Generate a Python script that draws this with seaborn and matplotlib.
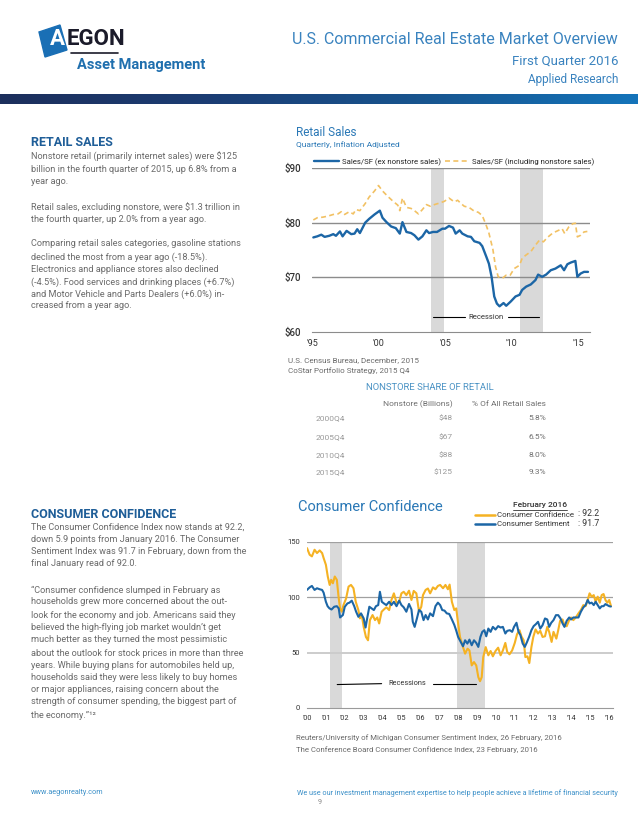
import matplotlib
matplotlib.use("Agg")
import matplotlib.pyplot as plt
import numpy as np
import pandas as pd
import seaborn as sns
from matplotlib.patches import Polygon
from matplotlib.lines import Line2D

W, H = 638, 826

# ---- retail sales per SF (quarterly) ----
ex_years = [1995.1, 1995.4, 1995.7, 1995.95, 1996.3, 1996.6, 1996.8, 1997.1, 1997.3, 1997.6,
            1997.95, 1998.2, 1998.4, 1998.6, 1999.0, 1999.3, 1999.7, 2000.1, 2000.3, 2000.6,
            2000.95, 2001.3, 2001.6, 2001.8, 2002.1, 2002.45, 2002.7, 2003.0, 2003.3, 2003.6,
            2003.8, 2004.1, 2004.4, 2004.8, 2005.0, 2005.3, 2005.6, 2005.8, 2006.1, 2006.3,
            2006.7, 2006.95, 2007.2, 2007.6, 2007.8, 2008.1, 2008.3, 2008.5, 2008.7, 2008.9,
            2009.1, 2009.4, 2009.6, 2009.95, 2010.3, 2010.6, 2010.8, 2011.1, 2011.45, 2011.8,
            2012.0, 2012.3, 2012.6, 2012.95, 2013.3, 2013.7, 2013.95, 2014.2, 2014.45, 2014.8,
            2014.95, 2015.2, 2015.45, 2015.75]
ex_vals = [77.3, 77.5, 77.8, 77.4, 77.6, 77.9, 77.6, 78.4, 77.5, 78.5,
           77.9, 78.0, 78.8, 78.1, 80.0, 80.7, 81.5, 82.2, 80.9, 80.1,
           79.3, 79.0, 78.0, 80.1, 78.3, 78.1, 77.7, 76.9, 77.5, 78.6,
           78.1, 78.3, 78.3, 78.9, 78.9, 79.4, 79.1, 78.0, 78.6, 78.0,
           77.5, 77.4, 76.6, 76.3, 75.7, 73.8, 72.5, 70.1, 66.5, 65.2,
           64.7, 65.3, 64.8, 65.6, 66.5, 66.8, 67.7, 68.3, 68.7, 69.5,
           70.5, 70.1, 70.5, 71.3, 71.6, 72.2, 71.3, 72.4, 72.7, 73.0,
           70.1, 70.7, 71.0, 71.0]

inc_years = [1995.1, 1995.4, 1995.8, 1996.2, 1996.6, 1996.95, 1997.2, 1997.45, 1997.8, 1998.1,
             1998.3, 1998.6, 1999.0, 1999.3, 1999.7, 2000.0, 2000.3, 2000.7, 2001.1, 2001.45,
             2001.6, 2001.8, 2002.1, 2002.45, 2002.7, 2003.0, 2003.3, 2003.6, 2003.9, 2004.2,
             2004.6, 2004.95, 2005.3, 2005.7, 2005.95, 2006.2, 2006.45, 2006.8, 2007.2, 2007.5,
             2007.8, 2008.1, 2008.3, 2008.6, 2008.8, 2009.0, 2009.3, 2009.6, 2009.9, 2010.2,
             2010.6, 2010.8, 2011.1, 2011.45, 2011.8, 2012.1, 2012.4, 2012.7, 2013.1, 2013.45,
             2013.8, 2014.0, 2014.3, 2014.6, 2014.8, 2014.95, 2015.2, 2015.45, 2015.7]
inc_vals = [80.5, 80.9, 81.0, 81.2, 81.5, 81.6, 82.0, 81.5, 82.0, 81.6,
            82.4, 82.2, 83.5, 84.7, 85.8, 86.8, 85.8, 84.8, 83.9, 83.2,
            82.2, 84.5, 82.8, 82.6, 82.2, 81.6, 82.4, 83.3, 83.0, 83.3,
            83.6, 83.9, 84.5, 83.8, 84.1, 83.5, 83.0, 82.8, 82.1, 81.9,
            81.3, 79.5, 78.1, 75.1, 71.9, 70.1, 69.8, 70.4, 70.4, 71.6,
            72.2, 73.5, 74.1, 74.7, 75.9, 76.8, 76.5, 77.3, 78.1, 78.5,
            78.9, 78.0, 79.2, 79.8, 79.9, 77.4, 77.7, 78.3, 78.4]

retail_recessions = [(2003.95, 2004.9), (2010.65, 2012.35)]
retail_yticks = [60, 70, 80, 90]
retail_ylabels = ["$60", "$70", "$80", "$90"]
retail_xlabel_years = [1995, 2000, 2005, 2010, 2015]
retail_xlabels = ["'95", "'00", "'05", "'10", "'15"]

# ---- consumer confidence / sentiment (monthly-ish) ----
conf_years = [2000.0, 2000.14, 2000.26, 2000.4, 2000.53, 2000.67, 2000.8, 2000.88, 2001.0, 2001.1,
              2001.2, 2001.28, 2001.37, 2001.47, 2001.58, 2001.67, 2001.75, 2001.84, 2001.93, 2002.07,
              2002.2, 2002.33, 2002.46, 2002.58, 2002.72, 2002.8, 2002.9, 2003.0, 2003.12, 2003.23,
              2003.33, 2003.47, 2003.6, 2003.72, 2003.82, 2003.95, 2004.07, 2004.2, 2004.35, 2004.47,
              2004.6, 2004.74, 2004.88, 2005.0, 2005.12, 2005.26, 2005.4, 2005.53, 2005.65, 2005.79,
              2005.93, 2006.05, 2006.14, 2006.28, 2006.4, 2006.52, 2006.67, 2006.8, 2006.93, 2007.05,
              2007.2, 2007.33, 2007.46, 2007.55, 2007.67, 2007.8, 2007.9, 2008.0, 2008.1, 2008.23,
              2008.37, 2008.5, 2008.6, 2008.72, 2008.84, 2008.96, 2009.07, 2009.16, 2009.25, 2009.33,
              2009.46, 2009.6, 2009.72, 2009.84, 2009.98, 2010.12, 2010.25, 2010.37, 2010.5, 2010.6,
              2010.72, 2010.86, 2011.0, 2011.12, 2011.25, 2011.35, 2011.47, 2011.56, 2011.67, 2011.77,
              2011.88, 2011.98, 2012.1, 2012.23, 2012.35, 2012.47, 2012.6, 2012.72, 2012.82, 2012.95,
              2013.05, 2013.2, 2013.3, 2013.4, 2013.53, 2013.63, 2013.75, 2013.88, 2013.98, 2014.1,
              2014.23, 2014.37, 2014.5, 2014.63, 2014.75, 2014.86, 2014.96, 2015.07, 2015.18, 2015.28,
              2015.39, 2015.5, 2015.6, 2015.7, 2015.8, 2015.9, 2016.0, 2016.09]
conf_vals = [144.5, 138.5, 137, 143, 140, 142.4, 140, 135.5, 129.4, 118.8,
             111.2, 115.8, 112.7, 118.8, 115.8, 100.6, 90, 87, 93, 99,
             109.7, 111.2, 108.2, 96, 88.5, 81, 84, 73.3, 64.2, 61.2,
             79.4, 84, 79.4, 81.8, 76.4, 87, 89, 91, 88.5, 97.6,
             103.6, 95.2, 96, 103.6, 105, 102, 106, 97.6, 105.8, 103.6,
             87, 91.5, 102, 106.7, 108, 103.6, 109, 107.3, 110.3, 111.2,
             108.2, 111.2, 107.3, 111.5, 96, 88.5, 90, 76.4, 64.2, 56.7,
             49.1, 53.6, 52, 38.5, 41.5, 38.5, 27.9, 24.2, 27.9, 46,
             55, 47.6, 51.5, 46.7, 51.5, 54.5, 47.6, 52, 58.8, 50.6,
             48.5, 52, 58.8, 66.7, 70.3, 64.8, 61.2, 46, 46.7, 40.6,
             55, 64.2, 71, 67.3, 69.7, 64.2, 64.8, 73.3, 68.8, 59.7,
             68.8, 62.7, 70.3, 78.8, 80, 74.8, 73.9, 79.4, 81.8, 79.4,
             81.8, 85.5, 88.5, 93, 92, 97.6, 103.6, 100.6, 102, 96,
             100.6, 95.2, 102, 103, 97.6, 95.2, 97.6, 92.2]

sent_years = [2000.0, 2000.14, 2000.26, 2000.4, 2000.53, 2000.67, 2000.8, 2000.88, 2001.0, 2001.09,
              2001.19, 2001.3, 2001.44, 2001.58, 2001.68, 2001.75, 2001.9, 2002.0, 2002.14, 2002.25,
              2002.37, 2002.5, 2002.6, 2002.72, 2002.86, 2003.0, 2003.1, 2003.2, 2003.3, 2003.42,
              2003.54, 2003.65, 2003.77, 2003.86, 2003.96, 2004.07, 2004.2, 2004.35, 2004.47, 2004.6,
              2004.74, 2004.88, 2005.0, 2005.12, 2005.26, 2005.4, 2005.53, 2005.6, 2005.7, 2005.82,
              2005.93, 2006.05, 2006.17, 2006.28, 2006.4, 2006.52, 2006.67, 2006.8, 2006.93, 2007.05,
              2007.16, 2007.28, 2007.4, 2007.53, 2007.67, 2007.8, 2007.9, 2008.0, 2008.14, 2008.26,
              2008.37, 2008.49, 2008.6, 2008.72, 2008.84, 2008.96, 2009.07, 2009.18, 2009.28, 2009.39,
              2009.49, 2009.6, 2009.72, 2009.84, 2009.98, 2010.12, 2010.25, 2010.37, 2010.5, 2010.6,
              2010.74, 2010.86, 2010.96, 2011.09, 2011.2, 2011.3, 2011.42, 2011.53, 2011.65, 2011.77,
              2011.88, 2012.0, 2012.12, 2012.23, 2012.35, 2012.47, 2012.6, 2012.72, 2012.82, 2012.93,
              2013.05, 2013.18, 2013.3, 2013.42, 2013.53, 2013.63, 2013.75, 2013.88, 2013.98, 2014.1,
              2014.23, 2014.37, 2014.5, 2014.63, 2014.75, 2014.86, 2014.96, 2015.07, 2015.18, 2015.28,
              2015.39, 2015.5, 2015.6, 2015.7, 2015.8, 2015.9, 2016.0, 2016.09]
sent_vals = [106.7, 109, 110.3, 106.7, 108.2, 107.3, 106.7, 104.2, 96, 92,
             90, 89, 91.5, 92, 90, 81.8, 84, 91.5, 94.5, 95.2,
             97, 92, 87, 82.4, 85.5, 81, 72.7, 82.4, 91.5, 90,
             88.5, 92, 93, 105, 96, 94.5, 93, 96, 93, 96,
             92, 97, 93, 91, 87, 94, 89, 78, 73.3, 81,
             88.5, 87, 79.4, 84, 80, 85.5, 83, 92, 95.2, 93,
             88.5, 88, 85.5, 85, 80, 75, 70, 64.2, 59.7, 55.8,
             61.2, 58.2, 61.8, 56.7, 61.2, 58.8, 55.2, 64.2, 68.8, 70.3,
             64.8, 71.8, 68.8, 73.3, 70.9, 74, 72.7, 73.3, 67.3, 69.7,
             70.3, 68.8, 73.3, 77, 68.8, 65.8, 58.2, 55.2, 59.7, 64.8,
             70.3, 74, 75.8, 77.9, 71.8, 74.8, 80.9, 80, 73.3, 77,
             79.4, 83.9, 83.9, 80.9, 76.4, 73.3, 78.8, 81.8, 80, 81.8,
             81.8, 81.8, 87, 90.9, 93, 97.6, 94.5, 95.2, 93, 96,
             93, 90, 92, 92, 93.9, 93, 92, 91.7]

cc_recessions = [(2001.2, 2001.85), (2007.95, 2009.45)]
cc_yticks = [0, 50, 100, 150]
cc_xyears = list(range(2000, 2017))
cc_xlabels = ["'%02d" % (y % 100) for y in cc_xyears]

# ---- nonstore table ----
table_quarters = ["2000Q4", "2005Q4", "2010Q4", "2015Q4"]
table_nonstore = ["$48", "$67", "$88", "$125"]
table_share = ["5.8%", "6.5%", "8.0%", "9.3%"]

# ---- colours ----
BLUE_LINE = "#1c66a6"
GOLD_DASH = "#f2c163"
GOLD_LINE = "#f5b223"
TITLE_BLUE = "#2a78b6"
HEAD_BLUE = "#1f5e98"
BODY_GRAY = "#6a6a6a"
GRID = "#8c8c8c"
BAND = "#d9d9d9"

sns.set_style("white")
plt.rcParams['font.family'] = ['Roboto', 'DejaVu Sans']

fig = plt.figure(figsize=(W / 100, H / 100), dpi=100)


def fx(x):
    return x / W


def fy(y):
    return 1 - y / H


def txt(x, y, s, **kw):
    kw.setdefault('va', 'center')
    fig.text(fx(x), fy(y), s, **kw)


def box(l, t, r, b):
    return [l / W, 1 - b / H, (r - l) / W, (b - t) / H]


# ---------------- header ----------------
bar = fig.add_axes(box(0, 94, W, 104))
grad = np.linspace(0, 1, 256).reshape(1, -1)
cmap = matplotlib.colors.LinearSegmentedColormap.from_list(
    "hdr", ["#1d2f5c", "#1b3d74", "#18558f", "#1474ba"])
bar.imshow(grad, aspect='auto', cmap=cmap, extent=[0, 1, 0, 1])
bar.axis('off')

fig.patches.append(Polygon([(fx(39), fy(32)), (fx(60), fy(25)), (fx(67), fy(50)), (fx(45), fy(57))],
                           closed=True, transform=fig.transFigure, color="#1a6fb5", zorder=2))
txt(50, 39, "A", fontsize=16, fontweight='bold', color='white', zorder=3)
txt(67, 39, "EGON", fontsize=16, fontweight='bold', color='#1b1b2a', zorder=3)
fig.lines.append(Line2D([fx(71), fx(118)], [fy(53), fy(53)], transform=fig.transFigure,
                        color='#1b1b2a', lw=1.2))
txt(77, 65, "Asset Management", fontsize=10.5, fontweight='bold', color="#1f6fae")

HDR_BLUE = "#3a83bf"
txt(618, 40, "U.S. Commercial Real Estate Market Overview", fontsize=11.5,
    color=HDR_BLUE, ha='right')
txt(618, 61, "First Quarter 2016", fontsize=9.5, color=HDR_BLUE, ha='right')
txt(618, 79, "Applied Research", fontsize=8.5, color=HDR_BLUE, ha='right')

# ---------------- left column text ----------------
txt(31, 143, "RETAIL SALES", fontsize=9, fontweight='bold', color=HEAD_BLUE)
retail_lines = [
    (157, "Nonstore retail (primarily internet sales) were $125"),
    (169, "billion in the fourth quarter of 2015, up 6.8% from a"),
    (182, "year ago."),
    (207, "Retail sales, excluding nonstore, were $1.3 trillion in"),
    (219, "the fourth quarter, up 2.0% from a year ago."),
    (244, "Comparing retail sales categories, gasoline stations"),
    (257, "declined the most from a year ago (-18.5%)."),
    (269, "Electronics and appliance stores also declined"),
    (282, "(-4.5%). Food services and drinking places (+6.7%)"),
    (294, "and Motor Vehicle and Parts Dealers (+6.0%) in-"),
    (306, "creased from a year ago."),
]
for y, s in retail_lines:
    txt(31, y, s, fontsize=6.6, color=BODY_GRAY)

txt(31, 514, "CONSUMER CONFIDENCE", fontsize=9, fontweight='bold', color=HEAD_BLUE)
cc_lines = [
    (527, "The Consumer Confidence Index now stands at 92.2,"),
    (539, "down 5.9 points from January 2016. The Consumer"),
    (552, "Sentiment Index was 91.7 in February, down from the"),
    (564, "final January read of 92.0."),
    (590, "\u201cConsumer confidence slumped in February as"),
    (602, "households grew more concerned about the out-"),
    (615, "look for the economy and job. Americans said they"),
    (627, "believed the high-flying job market wouldn\u2019t get"),
    (640, "much better as they turned the most pessimistic"),
    (653, "about the outlook for stock prices in more than three"),
    (665, "years. While buying plans for automobiles held up,"),
    (677, "households said they were less likely to buy homes"),
    (690, "or major appliances, raising concern about the"),
    (702, "strength of consumer spending, the biggest part of"),
    (715, "the economy.\u201d\u00b9\u00b2"),
]
for y, s in cc_lines:
    txt(31, y, s, fontsize=6.6, color=BODY_GRAY)

# ---------------- retail sales chart ----------------
txt(296, 133, "Retail Sales", fontsize=8.5, color=TITLE_BLUE)
txt(296, 145, "Quarterly, Inflation Adjusted", fontsize=6, color=TITLE_BLUE)

ax1 = fig.add_axes(box(312, 168, 590, 332))
for a, b in retail_recessions:
    ax1.axvspan(a, b, color=BAND, lw=0, zorder=0)
for v in retail_yticks[1:]:
    ax1.axhline(v, color=GRID, lw=1, zorder=1)
sns.lineplot(x=inc_years, y=inc_vals, ax=ax1, color=GOLD_DASH, lw=1.2, linestyle=(0, (3, 2)),
             label="Sales/SF (including nonstore sales)", zorder=3)
sns.lineplot(x=ex_years, y=ex_vals, ax=ax1, color=BLUE_LINE, lw=1.7,
             label="Sales/SF (ex nonstore sales)", zorder=4)
ax1.set_xlim(1995, 2015.9)
ax1.set_ylim(60, 90)
ax1.set_yticks(retail_yticks)
ax1.set_yticklabels(retail_ylabels)
ax1.set_xticks(np.arange(1995, 2016, 2.5))
ax1.set_xticklabels([retail_xlabels[retail_xlabel_years.index(int(t))] if t in retail_xlabel_years else ""
                     for t in np.arange(1995, 2016, 2.5)])
for s in ['top', 'right', 'left']:
    ax1.spines[s].set_visible(False)
ax1.spines['bottom'].set_color(GRID)
ax1.tick_params(axis='x', length=3, color=GRID, labelsize=6.5, labelcolor='#333333', pad=2)
ax1.tick_params(axis='y', length=0, labelsize=7, labelcolor='#333333', pad=8)
for lab in ax1.get_yticklabels():
    lab.set_fontweight('medium')
ax1.set_xlabel("")
ax1.set_ylabel("")
h, l = ax1.get_legend_handles_labels()
ax1.legend(h[::-1], l[::-1], loc='lower left', bbox_to_anchor=(0.0, 1.0), ncol=2, frameon=False,
           fontsize=5.6, handlelength=3.2, columnspacing=0.6, handletextpad=0.3, borderaxespad=0.2,
           borderpad=0.1)
ax1.plot([2004.1, 2006.5], [62.8, 62.8], color='black', lw=0.8)
ax1.plot([2009.75, 2012.1], [62.8, 62.8], color='black', lw=0.8)
ax1.text(2008.1, 62.8, "Recession", fontsize=5.5, color='#333333', ha='center', va='center')

txt(288, 360, "U.S. Census Bureau, December, 2015", fontsize=5.8, color=BODY_GRAY)
txt(288, 371, "CoStar Portfolio Strategy, 2015 Q4", fontsize=5.8, color=BODY_GRAY)

# ---------------- nonstore table ----------------
TGRAY = "#9a9a9a"
txt(430, 388, "NONSTORE SHARE OF RETAIL", fontsize=6.8, color="#4a92c4", ha='center')
txt(453, 404, "Nonstore (Billions)", fontsize=6, color="#6f6f6f", ha='right')
txt(546, 404, "% Of All Retail Sales", fontsize=6, color="#6f6f6f", ha='right')
row_y = [418, 437, 455, 472]
for y, q, n, p in zip(row_y, table_quarters, table_nonstore, table_share):
    txt(316, y, q, fontsize=6, color=TGRAY)
    txt(453, y, n, fontsize=6, color=TGRAY, ha='right')
    txt(546, y, p, fontsize=6, color="#6f6f6f", ha='right')

# ---------------- consumer confidence chart ----------------
txt(298, 507, "Consumer Confidence", fontsize=10.5, color=TITLE_BLUE)
txt(540, 505, "February 2016", fontsize=6, color='#333333', ha='center', fontweight='medium')
fig.lines.append(Line2D([fx(513), fx(567)], [fy(510), fy(510)], transform=fig.transFigure,
                        color='#333333', lw=0.6))
fig.lines.append(Line2D([fx(475), fx(495)], [fy(515), fy(515)], transform=fig.transFigure,
                        color=GOLD_LINE, lw=1.8))
fig.lines.append(Line2D([fx(475), fx(495)], [fy(524), fy(524)], transform=fig.transFigure,
                        color=BLUE_LINE, lw=1.8))
txt(497, 515, "Consumer Confidence", fontsize=5.6, color='#333333')
txt(497, 524, "Consumer Sentiment", fontsize=5.6, color='#333333')
txt(578, 514, ": %.1f" % conf_vals[-1], fontsize=6.3, color='#333333')
txt(578, 523, ": %.1f" % sent_vals[-1], fontsize=6.3, color='#333333')

ax2 = fig.add_axes(box(307, 542, 613, 708))
for a, b in cc_recessions:
    ax2.axvspan(a, b, color=BAND, lw=0, zorder=0)
ax2.axhline(150, color="#a0a0a0", lw=0.9, zorder=1)
ax2.axhline(100, color="#a0a0a0", lw=0.9, zorder=1)
ax2.axhline(50, color="#cccccc", lw=1.4, zorder=1)
sns.lineplot(x=conf_years, y=conf_vals, ax=ax2, color=GOLD_LINE, lw=1.5, zorder=3)
sns.lineplot(x=sent_years, y=sent_vals, ax=ax2, color=BLUE_LINE, lw=1.5, zorder=4)
ax2.set_xlim(2000, 2016.2)
ax2.set_ylim(0, 150)
ax2.set_yticks(cc_yticks)
ax2.set_xticks(cc_xyears)
ax2.set_xticklabels(cc_xlabels)
for s in ['top', 'right', 'left']:
    ax2.spines[s].set_visible(False)
ax2.spines['bottom'].set_color("#9a9a9a")
ax2.tick_params(axis='x', length=3, color="#9a9a9a", labelsize=5.3, labelcolor='#333333', pad=2)
ax2.tick_params(axis='y', length=0, labelsize=5.5, labelcolor='#333333', pad=5)
ax2.set_xlabel("")
ax2.set_ylabel("")
ax2.plot([2001.6, 2003.95], [21.2, 22.0], color='black', lw=0.8)
ax2.plot([2006.65, 2008.95], [21.7, 21.7], color='black', lw=0.8)
ax2.text(2005.3, 21.7, "Recessions", fontsize=5.3, color='#333333', ha='center', va='center')

txt(296, 738, "Reuters/University of Michigan Consumer Sentiment Index, 26 February, 2016",
    fontsize=5.6, color=BODY_GRAY)
txt(296, 750, "The Conference Board Consumer Confidence Index, 23 February, 2016",
    fontsize=5.6, color=BODY_GRAY)

# ---------------- footer ----------------
txt(31, 793, "www.aegonrealty.com", fontsize=5.2, color="#3a8fc8")
txt(618, 793, "We use our investment management expertise to help people achieve a lifetime of financial security",
    fontsize=5.2, color="#3a8fc8", ha='right')
txt(320, 803, "9", fontsize=5.2, color="#888888", ha='center')

fig.savefig("out.png", dpi=100)
